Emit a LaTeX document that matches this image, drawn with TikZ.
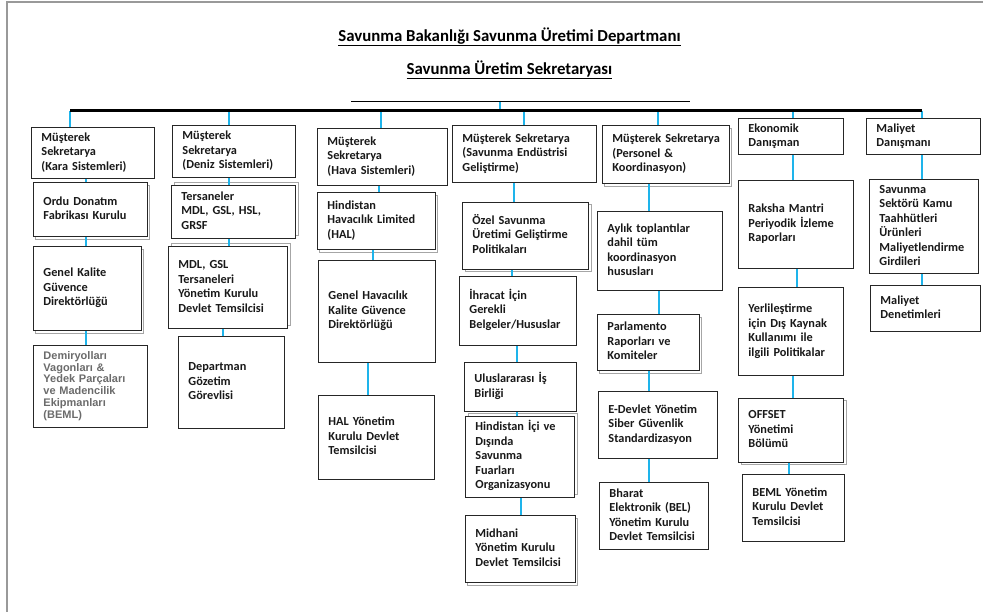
\documentclass[tikz,border=0pt]{standalone}
\usepackage{fontspec}
\setmainfont{Carlito}
\newfontfamily\arialf{Liberation Sans}
\usetikzlibrary{shadows}
\definecolor{conncol}{RGB}{30,180,235}
\tikzset{
  box/.style={draw=black!85, line width=0.9pt, fill=white, inner xsep=10pt, inner ysep=2pt,
    align=left, font=\bfseries\fontsize{12.3}{14.5}\selectfont, text=black!90},
  shdown/.style={general shadow={shadow xshift=2pt, shadow yshift=-3pt, draw=gray!70, fill=white, line width=0.8pt}},
  shup/.style={general shadow={shadow xshift=3pt, shadow yshift=3pt, draw=gray!70, fill=white, line width=0.8pt}},
  shright/.style={general shadow={shadow xshift=3pt, shadow yshift=-2pt, draw=gray!70, fill=white, line width=0.8pt}},
  conn/.style={draw=conncol, line width=2.2pt},
  titlestyle/.style={font=\bfseries\fontsize{16.8}{20}\selectfont, inner sep=0pt}
}
\newcommand\orgbox[7][]{%
  \pgfmathsetmacro\orgtw{#5-20}%
  \node[box,#1,minimum width=#5pt,minimum height=#6pt,text width=\orgtw pt,anchor=north west] (#2) at (#3,#4) {\begin{tabular}{@{}l@{}}#7\end{tabular}};}
\begin{document}
\begin{tikzpicture}[x=1pt,y=-1pt]
\useasboundingbox (0,0) rectangle (983,612);
\fill[white] (0,0) rectangle (983,612);
% frame
\draw[gray!80, line width=2pt] (7,612) -- (7,2) -- (983,2);
% titles
\node[titlestyle] (t1) at (509.5,37) {\underline{Savunma Bakanlığı Savunma Üretimi Departmanı}};
\node[titlestyle] (t2) at (509.5,70) {\underline{Savunma Üretim Sekretaryası}};
% bars
\coordinate (thinL) at (351,101);
\coordinate (thinR) at (690,101);
\coordinate (thinM) at (500,101);
\coordinate (barL) at (70,111);
\coordinate (barR) at (922,111);
\coordinate (barM) at (500,111);
\draw[conn] (thinM) -- (barM);
% column x coordinates
\foreach \n/\x in {x70/70,x86/86,x229/229,x223/223,x381/381,x379/379,x373/373,x368/368,x524/524,x514/514,x512/512,x517/517,x521/521,x658/658,x649/649,x659/659,x793/793,x797/797,x789/789,x922/922}
  \coordinate (\n) at (\x,111);
% column 1
\orgbox{k1}{31}{127}{123}{51}{Müşterek\\Sekretarya\\(Kara Sistemleri)}
\orgbox[shdown]{k2}{33}{182}{114}{54}{Ordu Donatım\\Fabrikası Kurulu}
\orgbox[shdown]{k3}{33}{246}{108}{84}{Genel Kalite\\Güvence\\Direktörlüğü}
\orgbox[font=\arialf\bfseries\fontsize{11}{11.8}\selectfont, text=black!58]{k4}{33}{345}{114}{82}{Demiryolları\\Vagonları \&\\Yedek Parçaları\\ve Madencilik\\Ekipmanları\\(BEML)}
% column 2
\orgbox{d1}{172}{125}{123}{52}{Müşterek\\Sekretarya\\(Deniz Sistemleri)}
\orgbox[shup]{d2}{171}{185}{124}{53}{Tersaneler\\MDL, GSL, HSL,\\GRSF}
\orgbox[shup]{d3}{168}{246}{119}{82}{MDL, GSL\\Tersaneleri\\Yönetim Kurulu\\Devlet Temsilcisi}
\orgbox{d4}{178}{336}{106}{92}{Departman\\Gözetim\\Görevlisi}
% column 3
\orgbox{h1}{317}{128}{130}{57}{Müşterek\\Sekretarya\\(Hava Sistemleri)}
\orgbox[shdown]{h2}{317}{192}{118}{57}{Hindistan\\Havacılık Limited\\(HAL)}
\orgbox{h3}{318}{260}{117}{102}{Genel Havacılık\\Kalite Güvence\\Direktörlüğü}
\orgbox{h4}{318}{395}{116}{84}{HAL Yönetim\\Kurulu Devlet\\Temsilcisi}
% column 4
\orgbox{s1}{452}{125}{144}{57}{Müşterek Sekretarya\\(Savunma Endüstrisi\\Geliştirme)}
\orgbox[shright]{s2}{462}{202}{126}{67}{Özel Savunma\\Üretimi Geliştirme\\Politikaları}
\orgbox{s3}{459}{276}{117}{69}{İhracat İçin\\Gerekli\\Belgeler/Hususlar}
\orgbox{s4}{464}{362}{112}{49}{Uluslararası İş\\Birliği}
\orgbox[shup]{s5}{465}{416}{109}{81}{Hindistan İçi ve\\Dışında\\Savunma\\Fuarları\\Organizasyonu}
\orgbox[shdown]{s6}{465}{515}{110}{67}{Midhani\\Yönetim Kurulu\\Devlet Temsilcisi}
% column 5
\orgbox[shdown]{p1}{602}{125}{127}{58}{Müşterek Sekretarya\\(Personel \&\\Koordinasyon)}
\orgbox{p2}{597}{211}{125}{79}{Aylık toplantılar\\dahil tüm\\koordinasyon\\hususları}
\orgbox[shdown]{p3}{597}{314}{102}{56}{Parlamento\\Raporları ve\\Komiteler}
\orgbox{p4}{598}{391}{119}{67}{E-Devlet Yönetim\\Siber Güvenlik\\Standardizasyon}
\orgbox{p5}{599}{482}{109}{67}{Bharat\\Elektronik (BEL)\\Yönetim Kurulu\\Devlet Temsilcisi}
% column 6
\orgbox{e1}{738}{118}{105}{36}{Ekonomik\\Danışman}
\orgbox{e2}{738}{180}{115}{88}{Raksha Mantri\\Periyodik İzleme\\Raporları}
\orgbox{e3}{738}{287}{105}{88}{Yerlileştirme\\için Dış Kaynak\\Kullanımı ile\\ilgili Politikalar}
\orgbox[shright]{e4}{738}{398}{105}{64}{OFFSET\\Yönetimi\\Bölümü}
\orgbox{e5}{742}{474}{102}{67}{BEML Yönetim\\Kurulu Devlet\\Temsilcisi}
% column 7
\orgbox{m1}{866}{118}{114}{36}{Maliyet\\Danışmanı}
\orgbox{m2}{869}{179}{109}{94}{Savunma\\Sektörü Kamu\\Taahhütleri\\Ürünleri\\Maliyetlendirme\\Girdileri}
\orgbox{m3}{870}{285}{110}{46}{Maliyet\\Denetimleri}
% drops from the bar
\draw[conn] (x70) -- (x70 |- k1.north);
\draw[conn] (x229) -- (x229 |- d1.north);
\draw[conn] (x381) -- (x381 |- h1.north);
\draw[conn] (x524) -- (x524 |- s1.north);
\draw[conn] (x658) -- (x658 |- p1.north);
\draw[conn] (x793) -- (x793 |- e1.north);
\draw[conn] (x922) -- (x922 |- m1.north);
% vertical connectors
\draw[conn] (x86 |- k1.south) -- (x86 |- k2.north);
\draw[conn] (x86 |- k2.south) -- (x86 |- k3.north);
\draw[conn] (x86 |- k3.south) -- (x86 |- k4.north);
\draw[conn] (x229 |- d1.south) -- (x229 |- d2.north);
\draw[conn] (x229 |- d2.south) -- (x229 |- d3.north);
\draw[conn] (x223 |- d3.south) -- (x223 |- d4.north);
\draw[conn] (x379 |- h1.south) -- (x379 |- h2.north);
\draw[conn] (x373 |- h2.south) -- (x373 |- h3.north);
\draw[conn] (x368 |- h3.south) -- (x368 |- h4.north);
\draw[conn] (x514 |- s1.south) -- (x514 |- s2.north);
\draw[conn] (x512 |- s2.south) -- (x512 |- s3.north);
\draw[conn] (x517 |- s3.south) -- (x517 |- s4.north);
\draw[conn] (x517 |- s4.south) -- (x517 |- s5.north);
\draw[conn] (x521 |- s5.south) -- (x521 |- s6.north);
\draw[conn] (x649 |- p1.south) -- (x649 |- p2.north);
\draw[conn] (x659 |- p2.south) -- (x659 |- p3.north);
\draw[conn] (x649 |- p3.south) -- (x649 |- p4.north);
\draw[conn] (x649 |- p4.south) -- (x649 |- p5.north);
\draw[conn] (x793 |- e1.south) -- (x793 |- e2.north);
\draw[conn] (x797 |- e2.south) -- (x797 |- e3.north);
\draw[conn] (x793 |- e3.south) -- (x793 |- e4.north);
\draw[conn] (x789 |- e4.south) -- (x789 |- e5.north);
\draw[conn] (x922 |- m1.south) -- (x922 |- m2.north);
\draw[conn] (x922 |- m2.south) -- (x922 |- m3.north);
% bars on top
\draw[line width=0.8pt] (thinL) -- (thinR);
\draw[line width=3pt] (barL) -- (barR);
\end{tikzpicture}
\end{document}
